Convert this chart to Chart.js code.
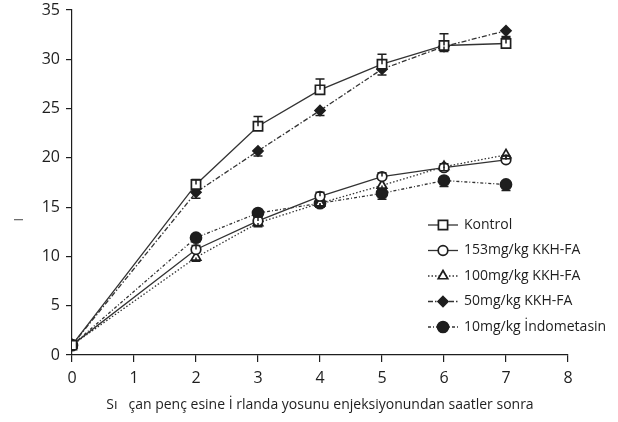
<!DOCTYPE html>
<html>
<head>
<meta charset="utf-8">
<script src="https://cdn.jsdelivr.net/npm/chart.js@4/dist/chart.umd.min.js"></script>
<style>
  html, body { margin: 0; padding: 0; background: #fff; }
  #wrap { width: 618px; height: 422px; }
</style>
</head>
<body>
<div id="wrap"><canvas id="c" width="618" height="422"></canvas></div>
<script>
// Hours after carrageenan injection
const hours = [0, 2, 3, 4, 5, 6, 7];

// Group means
const kontrol   = [1.0, 17.3, 23.2, 26.9, 29.5, 31.4, 31.6];
const kkh153    = [1.0, 10.7, 13.6, 16.1, 18.1, 19.0, 19.8];
const kkh100    = [1.0,  9.9, 13.4, 15.4, 17.2, 19.1, 20.3];
const kkh50     = [1.0, 16.5, 20.7, 24.8, 29.0, 31.3, 32.9];
const indo10    = [1.0, 11.9, 14.4, 15.4, 16.4, 17.7, 17.3];

// Standard errors
const kontrolErr = [0, 0.5, 1.0, 1.1, 1.0, 1.2, 0.6];
const kkh153Err  = [0, 0.4, 0.4, 0.4, 0.4, 0.4, 0.4];
const kkh100Err  = [0, 0.4, 0.4, 0.4, 0.4, 0.4, 0.4];
const kkh50Err   = [0, 0.6, 0.5, 0.5, 0.6, 0.5, 0.6];
const indo10Err  = [0, 0.4, 0.4, 0.4, 0.6, 0.6, 0.6];

const groupNames = ['Kontrol', '153mg/kg KKH-FA', '100mg/kg KKH-FA', '50mg/kg KKH-FA', '10mg/kg İndometasin'];

const xTicks = [0, 1, 2, 3, 4, 5, 6, 7, 8];
const yTicks = [0, 5, 10, 15, 20, 25, 30, 35];

const xTitle = 'Sı   çan penç esine İ rlanda yosunu enjeksiyonundan saatler sonra';
const yTitle = 'I                      ';

const INK = '#1e1e1e';
const LINE = '#333333';

const pts = arr => hours.map((h, i) => ({ x: h, y: arr[i] }));

function ds(label, values, errs, dir, style) {
  return Object.assign({
    label: label,
    data: pts(values),
    errors: errs,
    errDir: dir,
    borderColor: LINE,
    borderWidth: 1.3,
    pointBorderColor: INK,
    pointBorderWidth: 1.7,
    pointHoverRadius: 0,
    fill: false,
    tension: 0
  }, style);
}

const datasets = [
  ds(groupNames[0], kontrol, kontrolErr, 1, { pointStyle: 'rect', pointRadius: 6.5, pointBackgroundColor: '#fff', borderDash: [] }),
  ds(groupNames[1], kkh153, kkh153Err, 1, { pointStyle: 'circle', pointRadius: 4.8, pointBackgroundColor: '#fff', borderDash: [] }),
  ds(groupNames[2], kkh100, kkh100Err, -1, { pointStyle: 'triangle', pointRadius: 5.5, pointBackgroundColor: '#fff', borderDash: [1.5, 2] }),
  ds(groupNames[3], kkh50, kkh50Err, -1, { pointStyle: 'rectRot', pointRadius: 5, pointBackgroundColor: INK, borderDash: [5, 2, 1.5, 2] }),
  ds(groupNames[4], indo10, indo10Err, -1, { pointStyle: 'circle', pointRadius: 5.5, pointBackgroundColor: INK, borderDash: [3, 2, 1, 2] })
];

// Draw one-sided error bars with caps
const errorBars = {
  id: 'errorBars',
  afterDatasetsDraw(chart) {
    const ctx = chart.ctx;
    const yScale = chart.scales.y;
    ctx.save();
    ctx.strokeStyle = INK;
    ctx.lineWidth = 1.5;
    ctx.setLineDash([]);
    chart.data.datasets.forEach((d, di) => {
      const meta = chart.getDatasetMeta(di);
      meta.data.forEach((el, i) => {
        const e = d.errors[i];
        if (!e) return;
        const v = d.data[i].y;
        const yEnd = yScale.getPixelForValue(v + d.errDir * e);
        const yMid = yScale.getPixelForValue(v);
        ctx.beginPath();
        ctx.moveTo(el.x, yMid);
        ctx.lineTo(el.x, yEnd);
        ctx.moveTo(el.x - 4.5, yEnd);
        ctx.lineTo(el.x + 4.5, yEnd);
        ctx.stroke();
      });
    });
    ctx.restore();
  }
};

function drawMarker(ctx, style, r, x, y, fill) {
  ctx.beginPath();
  if (style === 'rect') {
    const s = r * Math.SQRT1_2;
    ctx.rect(x - s, y - s, 2 * s, 2 * s);
  } else if (style === 'circle') {
    ctx.arc(x, y, r, 0, Math.PI * 2);
  } else if (style === 'triangle') {
    ctx.moveTo(x, y - r);
    ctx.lineTo(x + r * Math.cos(Math.PI / 6), y + r * 0.5);
    ctx.lineTo(x - r * Math.cos(Math.PI / 6), y + r * 0.5);
    ctx.closePath();
  } else if (style === 'rectRot') {
    ctx.moveTo(x, y - r);
    ctx.lineTo(x + r, y);
    ctx.lineTo(x, y + r);
    ctx.lineTo(x - r, y);
    ctx.closePath();
  }
  ctx.fillStyle = fill;
  ctx.fill();
  ctx.stroke();
}

// Legend drawn inside the plot area, lower right
const innerLegend = {
  id: 'innerLegend',
  afterDraw(chart) {
    const ctx = chart.ctx;
    const x0 = 428, x1 = 458, tx = 464;
    const yStart = 225, step = 25.5;
    ctx.save();
    chart.data.datasets.forEach((d, i) => {
      const y = yStart + i * step;
      ctx.strokeStyle = LINE;
      ctx.lineWidth = 1.3;
      ctx.setLineDash(d.borderDash || []);
      ctx.beginPath();
      ctx.moveTo(x0, y);
      ctx.lineTo(x1, y);
      ctx.stroke();
      ctx.setLineDash([]);
      ctx.strokeStyle = INK;
      ctx.lineWidth = 1.7;
      drawMarker(ctx, d.pointStyle, d.pointRadius, (x0 + x1) / 2, y, d.pointBackgroundColor);
      ctx.fillStyle = INK;
      ctx.font = '14px "Open Sans"';
      ctx.textBaseline = 'middle';
      ctx.textAlign = 'left';
      ctx.fillText(d.label, tx, y);
    });
    ctx.restore();
  }
};

// Keep the plot box fixed regardless of label overhang
function noOverhang(s) {
  s.paddingTop = 0; s.paddingBottom = 0; s.paddingLeft = 0; s.paddingRight = 0;
}

new Chart(document.getElementById('c'), {
  type: 'line',
  data: { datasets: datasets },
  plugins: [errorBars, innerLegend],
  options: {
    responsive: false,
    animation: false,
    events: [],
    layout: { padding: { top: 10, right: 50, bottom: 0, left: 0 } },
    plugins: { legend: { display: false }, tooltip: { enabled: false } },
    scales: {
      x: {
        type: 'linear',
        min: 0, max: 8,
        afterBuildTicks: s => { s.ticks = xTicks.map(v => ({ value: v })); },
        afterFit: s => { s.height = 67; noOverhang(s); },
        grid: { display: true, drawOnChartArea: false, drawTicks: true, tickLength: 7, color: INK, lineWidth: 1.2 },
        border: { display: true, color: INK, width: 1.2 },
        ticks: { color: INK, padding: 7, font: { family: 'Open Sans', size: 16 }, maxRotation: 0 },
        title: { display: true, text: xTitle, color: INK, padding: { top: 4, bottom: 9 }, font: { family: 'Open Sans', size: 14 } }
      },
      y: {
        type: 'linear',
        min: 0, max: 35,
        afterBuildTicks: s => { s.ticks = yTicks.map(v => ({ value: v })); },
        afterFit: s => { s.width = 72; noOverhang(s); },
        grid: { display: true, drawOnChartArea: false, drawTicks: true, tickLength: 6, color: INK, lineWidth: 1.2 },
        border: { display: true, color: INK, width: 1.2 },
        ticks: { color: INK, padding: 6, font: { family: 'Open Sans', size: 16 } },
        title: { display: true, text: yTitle, color: '#555', padding: { top: 11, bottom: 0 }, font: { family: 'Open Sans', size: 13 } }
      }
    }
  }
});
</script>
</body>
</html>
